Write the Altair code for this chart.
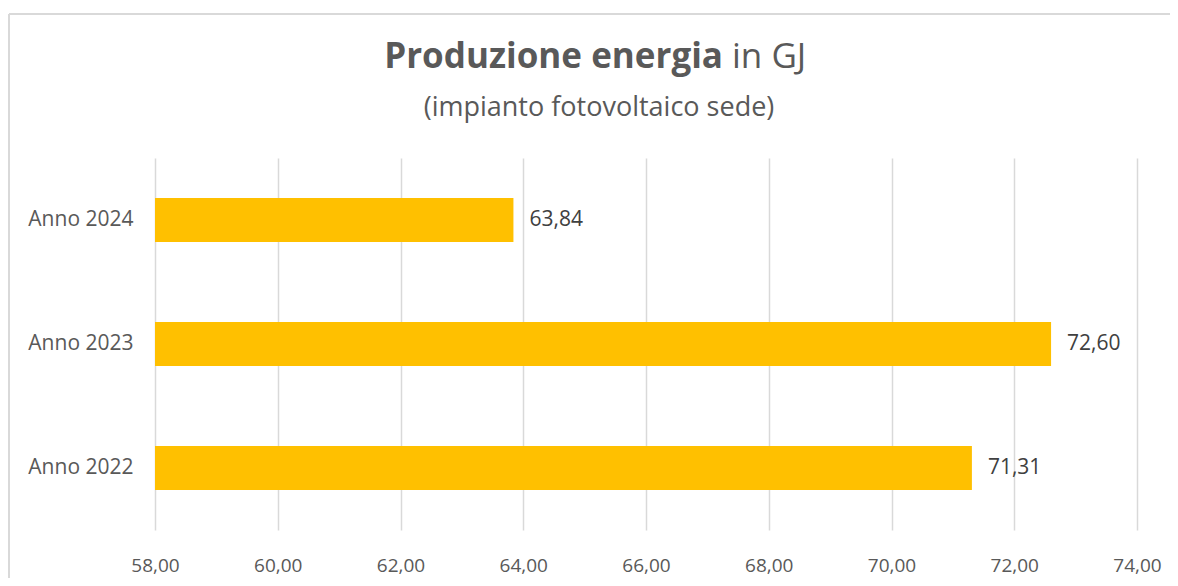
import altair as alt
import pandas as pd

categories = ["Anno 2024", "Anno 2023", "Anno 2022"]
values = [63.84, 72.60, 71.31]
x_ticks = [58, 60, 62, 64, 66, 68, 70, 72, 74]

df = pd.DataFrame({"anno": categories, "valore": values})
one = pd.DataFrame({"k": [0]})

FONT = "Open Sans"
W, H = 982, 372

y_enc = alt.Y("anno:N", sort=categories,
              scale=alt.Scale(paddingInner=0.645, paddingOuter=0.3225),
              axis=alt.Axis(title=None, domain=False, ticks=False, grid=False, labelFontSize=21,
                            labelColor="#595959", labelFont=FONT, labelPadding=22))

bars = alt.Chart(df).mark_bar(color="#FFC000", clip=False).encode(
    x=alt.X("valore:Q", scale=alt.Scale(domain=[58, 74], nice=False, zero=False)).axis(
        values=x_ticks, format=".2f", title=None, domain=False, ticks=False,
        labelFontSize=19, labelColor="#595959", labelFont=FONT, labelFlush=False,
        labelOverlap=False, labelPadding=26, grid=True, gridColor="#D9D9D9", gridWidth=1.5),
    x2=alt.datum(58),
    y=y_enc,
)

labels = alt.Chart(df).mark_text(align="left", baseline="middle", dx=16, fontSize=21,
                                 font=FONT, color="#404040").encode(
    x=alt.X("valore:Q"),
    y=alt.Y("anno:N", sort=categories),
    text=alt.Text("valore:Q", format=".2f"),
)

title_bold = alt.Chart(one).mark_text(align="right", baseline="alphabetic", fontSize=35,
                                      fontWeight="bold", font=FONT, color="#595959").encode(
    x=alt.value(568), y=alt.value(-90), text=alt.value("Produzione energia"))
title_reg = alt.Chart(one).mark_text(align="left", baseline="alphabetic", fontSize=35,
                                     font=FONT, color="#595959").encode(
    x=alt.value(577), y=alt.value(-90), text=alt.value("in GJ"))
subtitle = alt.Chart(one).mark_text(align="center", baseline="alphabetic", fontSize=27,
                                    font=FONT, color="#595959").encode(
    x=alt.value(444), y=alt.value(-42), text=alt.value("(impianto fotovoltaico sede)"))

frame_top = alt.Chart(one).mark_rule(color="#D9D9D9", strokeWidth=2).encode(
    x=alt.value(-146), x2=alt.value(1030), y=alt.value(-144))
frame_left = alt.Chart(one).mark_rule(color="#D9D9D9", strokeWidth=2).encode(
    x=alt.value(-146), y=alt.value(-144), y2=alt.value(440))

chart = alt.layer(bars, labels, title_bold, title_reg, subtitle, frame_top, frame_left).properties(
    width=W, height=H,
    autosize=alt.AutoSizeParams(type="none"),
    padding={"left": 147, "top": 150, "right": 33, "bottom": 48},
).configure(background="white").configure_view(stroke="transparent", strokeWidth=0)

chart.save("out.html", embed_options={
    "renderer": "svg", "actions": False,
    "formatLocale": {"decimal": ",", "thousands": ".", "grouping": [3], "currency": ["€", ""]},
})
